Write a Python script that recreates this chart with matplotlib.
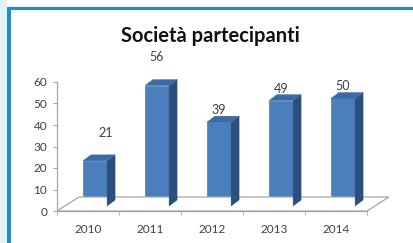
import matplotlib
matplotlib.use('Agg')
import matplotlib.pyplot as plt
from matplotlib.patches import Polygon, Rectangle
import matplotlib.transforms as mtransforms

# ---- data ----
years = ['2010', '2011', '2012', '2013', '2014']
values = [21, 56, 39, 49, 50]
yticks = [0, 10, 20, 30, 40, 50, 60]
title = 'Società partecipanti'

# label nudges (pixels) to mimic manual placement in the original
label_dx = [11, 0, 0, 0, 0]
label_lift = [16, 17, 0, 0, 0]

plt.rcParams['font.family'] = ['Lato', 'DejaVu Sans']

W, H = 413, 243
DPI = 100
fig = plt.figure(figsize=(W / DPI, H / DPI), dpi=DPI)
fig.patch.set_facecolor('white')

# frame decorations
fig.patches.append(Rectangle((0, 0), 7 / W, 1, transform=fig.transFigure,
                             facecolor='#e3f1f9', edgecolor='none', zorder=0))
fig.patches.append(Rectangle((7 / W, 0), 3.5 / W, (H - 7) / H, transform=fig.transFigure,
                             facecolor='#1b8fd0', edgecolor='none', zorder=1))
fig.patches.append(Rectangle((7 / W, (H - 10.5) / H), 1, 3.5 / H, transform=fig.transFigure,
                             facecolor='#1b8fd0', edgecolor='none', zorder=1))

ax = fig.add_axes([57 / W, (H - 211) / H, 310 / W, 129 / H])
ax.set_xlim(-0.5, len(years) - 0.5)
ax.set_ylim(0, 60)
ax.patch.set_alpha(0)

gray = '#a6a6a6'
for s in ['top', 'right']:
    ax.spines[s].set_visible(False)
ax.spines['left'].set_color(gray)
ax.spines['bottom'].set_color(gray)
ax.spines['left'].set_linewidth(0.9)
ax.spines['bottom'].set_linewidth(0.9)

ax.set_yticks(yticks)
ax.set_yticklabels([str(t) for t in yticks], fontsize=8.5, color='#404040')
ax.tick_params(axis='y', direction='out', length=3, color=gray, pad=4)

xs = list(range(len(years)))
ax.set_xticks(xs)
ax.set_xticklabels(years, fontsize=8.5, color='#404040')
ax.tick_params(axis='x', which='major', length=0, pad=9)
ax.set_xticks([x - 0.5 for x in xs] + [xs[-1] + 0.5], minor=True)
ax.tick_params(axis='x', which='minor', direction='out', length=3, color=gray)

fig.text(210 / W, (H - 36) / H, title, ha='center', va='center',
         fontsize=14.5, fontweight='bold', color='#111111')

fig.canvas.draw()

# floor parallelogram (display coords)
ident = mtransforms.IdentityTransform()
fdx, fdy = 22, 14
p0 = ax.transData.transform((-0.5, 0))
p1 = ax.transData.transform((len(years) - 0.5, 0))
floor = Polygon([p0, p1, (p1[0] + fdx, p1[1] + fdy), (p0[0] + fdx, p0[1] + fdy)],
                closed=True, transform=ident, facecolor='white', edgecolor=gray,
                linewidth=0.9, zorder=1)
fig.patches.append(floor)

# 3D bars
front = '#4a7ebd'
top_c = '#3b6aa6'
side_c = '#2b4f7e'
bw = 0.39
shift = mtransforms.ScaledTranslation(7 / DPI, 5 / DPI, fig.dpi_scale_trans)
bar_tr = ax.transData + shift
ddx, ddy = 8, 6

bars = ax.bar(xs, values, width=bw, color=front, edgecolor='#3a6aa5', linewidth=0.4,
              transform=bar_tr, zorder=3, clip_on=False)

for i, (x, v) in enumerate(zip(xs, values)):
    bl = bar_tr.transform((x - bw / 2, 0))
    br = bar_tr.transform((x + bw / 2, 0))
    tl = bar_tr.transform((x - bw / 2, v))
    tr = bar_tr.transform((x + bw / 2, v))
    side = Polygon([br, tr, (tr[0] + ddx, tr[1] + ddy), (br[0] + ddx, br[1] + ddy)],
                   closed=True, transform=ident, facecolor=side_c, edgecolor=side_c,
                   linewidth=0.3, zorder=2)
    top = Polygon([tl, tr, (tr[0] + ddx, tr[1] + ddy), (tl[0] + ddx, tl[1] + ddy)],
                  closed=True, transform=ident, facecolor=top_c, edgecolor=top_c,
                  linewidth=0.3, zorder=2)
    fig.patches.append(side)
    fig.patches.append(top)
    ax.annotate(str(v), xy=(x, v), xycoords=bar_tr,
                xytext=(label_dx[i] * 72 / DPI, (ddy + 0 + label_lift[i]) * 72 / DPI),
                textcoords='offset points', ha='center', va='bottom',
                fontsize=9, color='#404040', annotation_clip=False)

fig.savefig('out.png', dpi=DPI)
